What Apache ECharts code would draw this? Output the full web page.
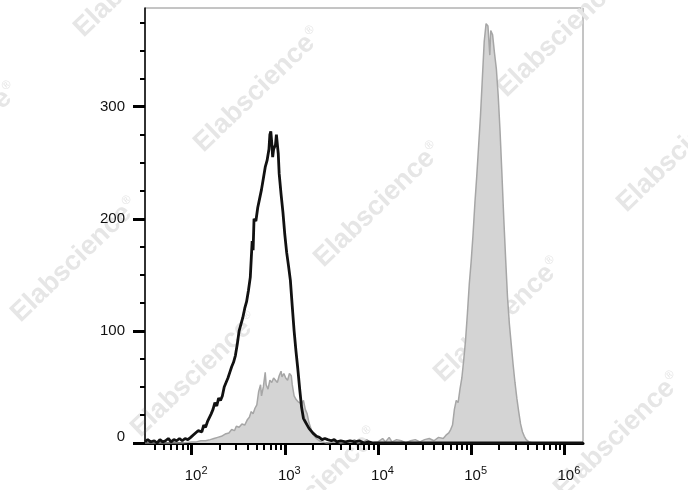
<!DOCTYPE html>
<html><head><meta charset="utf-8">
<script src="https://cdn.jsdelivr.net/npm/echarts@6/dist/echarts.min.js"></script>
<style>html,body{margin:0;padding:0;background:#fff}#c{width:688px;height:490px}</style>
</head><body><div id="c"></div>
<script>
// x values are log10(fluorescence); counts are events per channel
const blackLog = [1.50,1.53,1.56,1.60,1.63,1.66,1.69,1.72,1.75,1.78,1.81,1.84,1.87,1.90,1.93,1.96,1.99,
 2.01,2.03,2.05,2.07,2.09,2.11,2.13,2.15,2.17,2.19,2.21,2.23,2.25,2.27,2.29,2.31,2.33,2.35,2.37,2.39,2.41,2.43,2.45,2.47,2.49,2.51,2.53,2.55,2.57,2.59,2.61,2.63,
 2.65,2.66,2.67,2.69,2.71,2.73,2.75,2.77,2.79,2.81,2.83,2.84,2.85,2.86,2.87,2.88,2.90,2.91,2.92,2.93,2.94,
 2.96,2.98,3.00,3.02,3.04,3.06,3.08,3.10,3.12,3.14,3.16,3.18,3.20,3.22,3.24,3.26,3.28,3.30,3.32,3.34,
 3.37,3.40,3.43,3.46,3.50,3.53,3.56,3.60,3.65,3.70,3.75,3.80,3.85,3.90,3.95,4.00,6.20];
const blackCount = [1,3,1,2,0,3,1,2,4,1,3,2,4,2,4,3,5,
 5,8,7,11,12,10,16,14,19,20,26,30,36,33,40,38,42,50,54,58,63,68,72,78,88,100,106,112,120,126,136,148,
 180,172,200,198,210,218,226,236,246,252,262,275,278,268,255,262,266,275,276,258,240,
 222,206,186,170,158,145,122,100,82,66,48,32,22,19,16,13,11,9,8,6,
 5,3,4,3,2,3,1,2,1,2,1,2,0,1,0,0,0];
const grayLog = [1.50,1.90,2.00,2.05,2.10,2.15,2.20,2.24,2.28,2.32,2.36,2.40,2.43,2.46,2.48,2.51,2.54,2.57,2.60,
 2.62,2.64,2.66,2.68,2.70,2.72,2.74,2.75,2.77,2.79,2.80,2.82,2.84,2.86,2.88,2.90,2.92,2.94,2.96,
 2.97,2.99,3.01,3.03,3.05,3.07,3.08,3.10,3.12,3.14,3.16,3.18,3.20,3.22,3.24,3.26,3.28,3.30,3.32,3.34,
 3.37,3.40,3.45,3.55,3.60,3.70,3.75,3.78,3.85,3.88,3.92,
 4.00,4.05,4.08,4.12,4.15,4.20,4.25,4.30,4.35,4.40,4.45,4.50,4.55,4.60,4.65,4.70,4.73,4.76,4.78,
 4.80,4.82,4.84,4.86,4.88,4.90,4.92,4.94,4.96,4.98,5.00,5.02,5.04,5.06,5.08,5.10,5.12,5.14,5.16,5.18,5.20,5.21,
 5.23,5.25,5.27,5.29,5.31,5.33,5.35,5.37,5.39,5.41,5.43,5.45,5.47,5.49,5.51,5.53,5.55,5.57,5.59,5.62,5.66,6.20];
const grayCount = [0,0,1,1,2,2,3,4,5,6,8,9,12,11,15,14,17,16,21,
 23,28,26,31,34,46,52,42,50,63,52,48,56,54,58,57,54,60,64,
 59,62,58,56,62,60,52,42,39,37,36,35,38,30,26,18,13,8,6,4,
 2,1,0,1,0,1,3,0,1,3,0,
 1,4,1,5,1,3,2,0,2,3,1,3,4,2,5,4,7,9,12,
 16,30,38,36,48,58,74,92,116,142,162,186,214,238,265,292,325,358,374,372,346,368,
 364,348,334,310,278,240,200,164,130,106,88,70,54,40,28,17,10,6,3,1,0,0];

const xDecadeTicks = [2,3,4,5,6];
const yMajorTicks = [0,100,200,300];
const yMinorTicks = [25,50,75,125,150,175,225,250,275,325,350,375];
const xMinorTicks = [];
for (let n = 1; n <= 5; n++) for (let k = 2; k <= 9; k++) {
  const v = n + Math.log10(k);
  if (v > 1.5 && v < 6.2) xMinorTicks.push(v);
}
const watermarkText = 'Elabscience';
const watermarkPos = [[138,-25],[258,90],[378,205],[498,320],[618,435],[-45,145],[75,260],[195,375],[315,490],[561,35],[681,150]];

const FONT = 'Liberation Sans, Arial, sans-serif';
const zip = (a, b) => a.map((v, i) => [v, b[i]]);

const chart = echarts.init(document.getElementById('c'), null, {renderer: 'canvas'});
chart.setOption({
  animation: false,
  backgroundColor: '#fff',
  grid: {left: 145, right: 105, top: 8, bottom: 47, show: true, borderColor: '#8a8a8a', borderWidth: 1, backgroundColor: 'transparent'},
  graphic: watermarkPos.map(p => ({
    type: 'text', x: p[0], y: p[1], rotation: 44 * Math.PI / 180, z: 0, silent: true,
    style: {
      text: '{a|' + watermarkText + '}{r|®}',
      align: 'center', verticalAlign: 'middle',
      rich: {
        a: {font: 'bold 27px ' + FONT, fill: '#e6e6e6'},
        r: {font: '12px ' + FONT, fill: '#e6e6e6', padding: [0, 0, 14, 1]}
      }
    }
  })),
  xAxis: [{
    type: 'value', min: 1.5, max: 6.2, position: 'bottom',
    axisLine: {lineStyle: {color: '#000', width: 3}},
    axisTick: {customValues: xDecadeTicks, length: 12, lineStyle: {color: '#000', width: 3}},
    axisLabel: {
      customValues: xDecadeTicks, margin: 22, color: '#111',
      formatter: v => '{b|10}{s|' + Math.round(v) + '}',
      rich: {
        b: {fontSize: 15, fontFamily: FONT, color: '#111', padding: [0, 0, 0, 9]},
        s: {fontSize: 11, fontFamily: FONT, color: '#111', padding: [0, 0, 10, 0]}
      }
    },
    splitLine: {show: false}
  }, {
    type: 'value', min: 1.5, max: 6.2, position: 'bottom',
    axisLine: {show: false},
    axisTick: {customValues: xMinorTicks, length: 7, lineStyle: {color: '#000', width: 2}},
    axisLabel: {show: false},
    splitLine: {show: false}
  }],
  yAxis: [{
    type: 'value', min: 0, max: 388, position: 'left',
    axisLine: {show: true, lineStyle: {color: '#000', width: 1.5}},
    axisTick: {customValues: yMajorTicks, length: 12, lineStyle: {color: '#000', width: 3}},
    axisLabel: {
      customValues: yMajorTicks, margin: 20, fontSize: 15, fontFamily: FONT, color: '#111',
      formatter: v => v === 0 ? '{z|0}' : String(v),
      rich: {z: {fontSize: 15, fontFamily: FONT, color: '#111', padding: [0, 0, 12, 0]}}
    },
    splitLine: {show: false}
  }, {
    type: 'value', min: 0, max: 388, position: 'left',
    axisLine: {show: false},
    axisTick: {customValues: yMinorTicks, length: 5, lineStyle: {color: '#000', width: 2}},
    axisLabel: {show: false},
    splitLine: {show: false}
  }],
  series: [{
    type: 'line', name: 'stained', data: zip(grayLog, grayCount),
    symbol: 'none', smooth: false, z: 3,
    lineStyle: {color: '#a6a6a6', width: 1.5},
    areaStyle: {color: '#d4d4d4', opacity: 1}
  }, {
    type: 'line', name: 'control', data: zip(blackLog, blackCount),
    symbol: 'none', smooth: false, z: 4,
    lineStyle: {color: '#111', width: 2.8}
  }]
});
</script>
</body></html>
